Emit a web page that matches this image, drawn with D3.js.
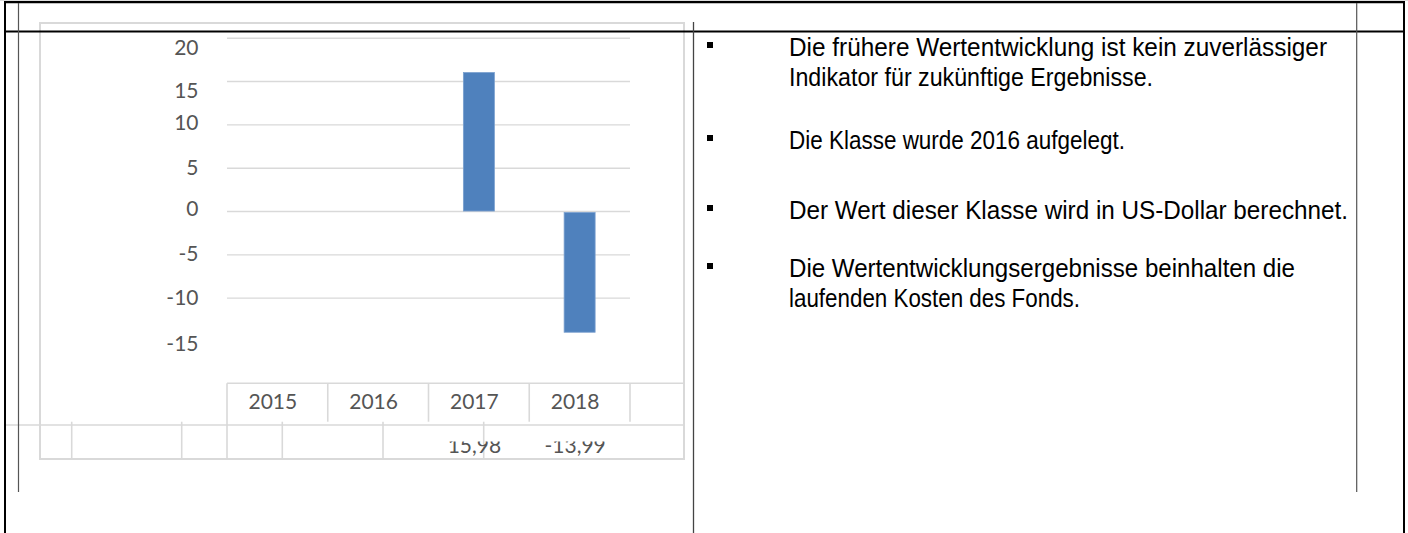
<!DOCTYPE html>
<html><head><meta charset="utf-8">
<script src="https://cdn.jsdelivr.net/npm/d3@7"></script>
<style>html,body{margin:0;padding:0;background:#fff;overflow:hidden}</style>
</head><body>
<svg id="c" width="1408" height="533"></svg>
<script>
// ---- data ----
const years = ["2015", "2016", "2017", "2018"];
const returns = [null, null, 15.98, -13.99];
const valueLabels = ["", "", "15,98", "-13,99"];
const yTicks = [20, 15, 10, 5, 0, -5, -10, -15];
const gridTicks = [20, 15, 10, 5, 0, -5, -10];
const notes = [
  ["Die frühere Wertentwicklung ist kein zuverlässiger", "Indikator für zukünftige Ergebnisse."],
  ["Die Klasse wurde 2016 aufgelegt."],
  ["Der Wert dieser Klasse wird in US-Dollar berechnet."],
  ["Die Wertentwicklungsergebnisse beinhalten die", "laufenden Kosten des Fonds."]
];

// ---- layout ----
const svg = d3.select("#c");
const plot = {left: 227, right: 630, top: 37.7, bottom: 341};
const frame = {left: 40, top: 23, right: 684, bottom: 459};
const tickNudge = {"20": 9, "15": 9, "10": -2, "5": -1, "0": -3, "-5": -1, "-10": -1, "-15": 2};
const notesY = [47, 140, 210, 268];
const noteWidths = [[538, 364], [336], [559], [506, 291]];
const lineGap = 30;
const grey = "#d9d9d9";
const chartFont = "Lato, 'Open Sans', sans-serif";
const labelColor = "#555";

const x = d3.scaleBand().domain(years).range([plot.left, plot.right]).padding(0);
const y = d3.scaleLinear().domain([-15, 20]).range([plot.bottom, plot.top]);

svg.append("rect").attr("width", 1408).attr("height", 533).attr("fill", "#fff");

// chart frame
svg.append("rect").attr("x", frame.left).attr("y", frame.top)
  .attr("width", frame.right - frame.left).attr("height", frame.bottom - frame.top)
  .attr("fill", "none").attr("stroke", grey).attr("stroke-width", 2);

// gridlines
const grid = svg.append("g").attr("transform", `translate(${plot.left},0)`)
  .call(d3.axisLeft(y).tickValues(gridTicks).tickSize(-(plot.right - plot.left)).tickFormat(""));
grid.select(".domain").remove();
grid.selectAll("line").attr("stroke", grey).attr("stroke-width", 1.4);

// y axis labels
const yAxis = svg.append("g").attr("transform", "translate(198.5,0)")
  .call(d3.axisLeft(y).tickValues(yTicks).tickSize(0).tickPadding(0).tickFormat(d => String(d)));
yAxis.select(".domain").remove();
yAxis.selectAll("text")
  .attr("font-family", chartFont).attr("font-size", 21).attr("fill", labelColor)
  .attr("dy", d => (tickNudge[String(d)] || 0) + 7.5);

// bars
const bw = 31;
const data = years.map((yr, i) => ({yr, v: returns[i], label: valueLabels[i]}));
svg.append("g").selectAll("rect").data(data.filter(d => d.v != null)).join("rect")
  .attr("x", d => x(d.yr) + x.bandwidth() / 2 - bw / 2)
  .attr("y", d => d.v >= 0 ? y(d.v) : y(0) + 1.5)
  .attr("width", bw)
  .attr("height", d => d.v >= 0 ? y(0) - y(d.v) : y(d.v) - y(0) - 1.5)
  .attr("fill", "#4f81bd").attr("stroke", "#7aa0cf").attr("stroke-width", 0.8);

// category table
const tableTop = 383.3, rowSplit = 425, rowLineEnd = 421.7;
const tbl = svg.append("g").attr("stroke", grey).attr("stroke-width", 1.6);
tbl.append("line").attr("x1", plot.left).attr("x2", frame.right).attr("y1", tableTop).attr("y2", tableTop);
tbl.append("line").attr("x1", 5).attr("x2", frame.right).attr("y1", rowSplit).attr("y2", rowSplit);
tbl.append("line").attr("x1", plot.left).attr("x2", plot.left).attr("y1", tableTop).attr("y2", frame.bottom);
tbl.selectAll(".cv").data(years.slice(1).concat(["end"])).join("line")
  .attr("x1", d => d === "end" ? plot.right : x(d)).attr("x2", d => d === "end" ? plot.right : x(d))
  .attr("y1", tableTop).attr("y2", rowLineEnd);
const lowerDividers = [71.7, 181.7, 282.3, 383, 483.7];
tbl.selectAll(".lv").data(lowerDividers).join("line")
  .attr("x1", d => d).attr("x2", d => d).attr("y1", rowLineEnd).attr("y2", frame.bottom);

// year labels
svg.append("g").selectAll("text").data(years).join("text")
  .attr("x", d => x(d) + x.bandwidth() / 2 - 4.5).attr("y", 401.5).attr("dy", "0.36em")
  .attr("text-anchor", "middle").attr("font-family", chartFont).attr("font-size", 21)
  .attr("fill", labelColor).text(d => d);

// value labels (clipped at top)
svg.append("clipPath").attr("id", "valclip").append("rect")
  .attr("x", plot.left).attr("y", 441.5).attr("width", frame.right - plot.left).attr("height", 17);
svg.append("g").attr("clip-path", "url(#valclip)").selectAll("text").data(data).join("text")
  .attr("x", d => x(d.yr) + x.bandwidth() / 2 - 4.5).attr("y", 453)
  .attr("text-anchor", "middle").attr("font-family", chartFont).attr("font-size", 21)
  .attr("fill", labelColor).text(d => d.label);

// page table lines
const dark = svg.append("g");
dark.append("line").attr("x1", 0).attr("x2", 1408).attr("y1", 0.5).attr("y2", 0.5).attr("stroke", "#ddd").attr("stroke-width", 1);
dark.append("line").attr("x1", 4).attr("x2", 1405).attr("y1", 2.2).attr("y2", 2.2).attr("stroke", "#000").attr("stroke-width", 2.2);
dark.append("line").attr("x1", 5).attr("x2", 5).attr("y1", 1).attr("y2", 533).attr("stroke", "#000").attr("stroke-width", 2);
dark.append("line").attr("x1", 1404).attr("x2", 1404).attr("y1", 1).attr("y2", 533).attr("stroke", "#000").attr("stroke-width", 2);
dark.append("line").attr("x1", 5).attr("x2", 1404).attr("y1", 31.5).attr("y2", 31.5).attr("stroke", "#000").attr("stroke-width", 1.8);
dark.append("line").attr("x1", 18.5).attr("x2", 18.5).attr("y1", 3).attr("y2", 492).attr("stroke", "#555").attr("stroke-width", 1.2);
dark.append("line").attr("x1", 693.5).attr("x2", 693.5).attr("y1", 22).attr("y2", 533).attr("stroke", "#444").attr("stroke-width", 1.3);
dark.append("line").attr("x1", 1356.7).attr("x2", 1356.7).attr("y1", 3).attr("y2", 492).attr("stroke", "#555").attr("stroke-width", 1.2);

// notes
const ng = svg.append("g");
notes.forEach((lines, i) => {
  ng.append("rect").attr("x", 707).attr("y", notesY[i] - 5).attr("width", 6).attr("height", 6).attr("fill", "#000");
  lines.forEach((t, j) => {
    ng.append("text").attr("x", 789).attr("y", notesY[i] + j * lineGap).attr("dy", "0.36em")
      .attr("font-family", "'Liberation Sans', Arial, sans-serif").attr("font-size", 25)
      .attr("textLength", noteWidths[i][j]).attr("lengthAdjust", "spacingAndGlyphs")
      .attr("fill", "#000").text(t);
  });
});
</script>
</body></html>
